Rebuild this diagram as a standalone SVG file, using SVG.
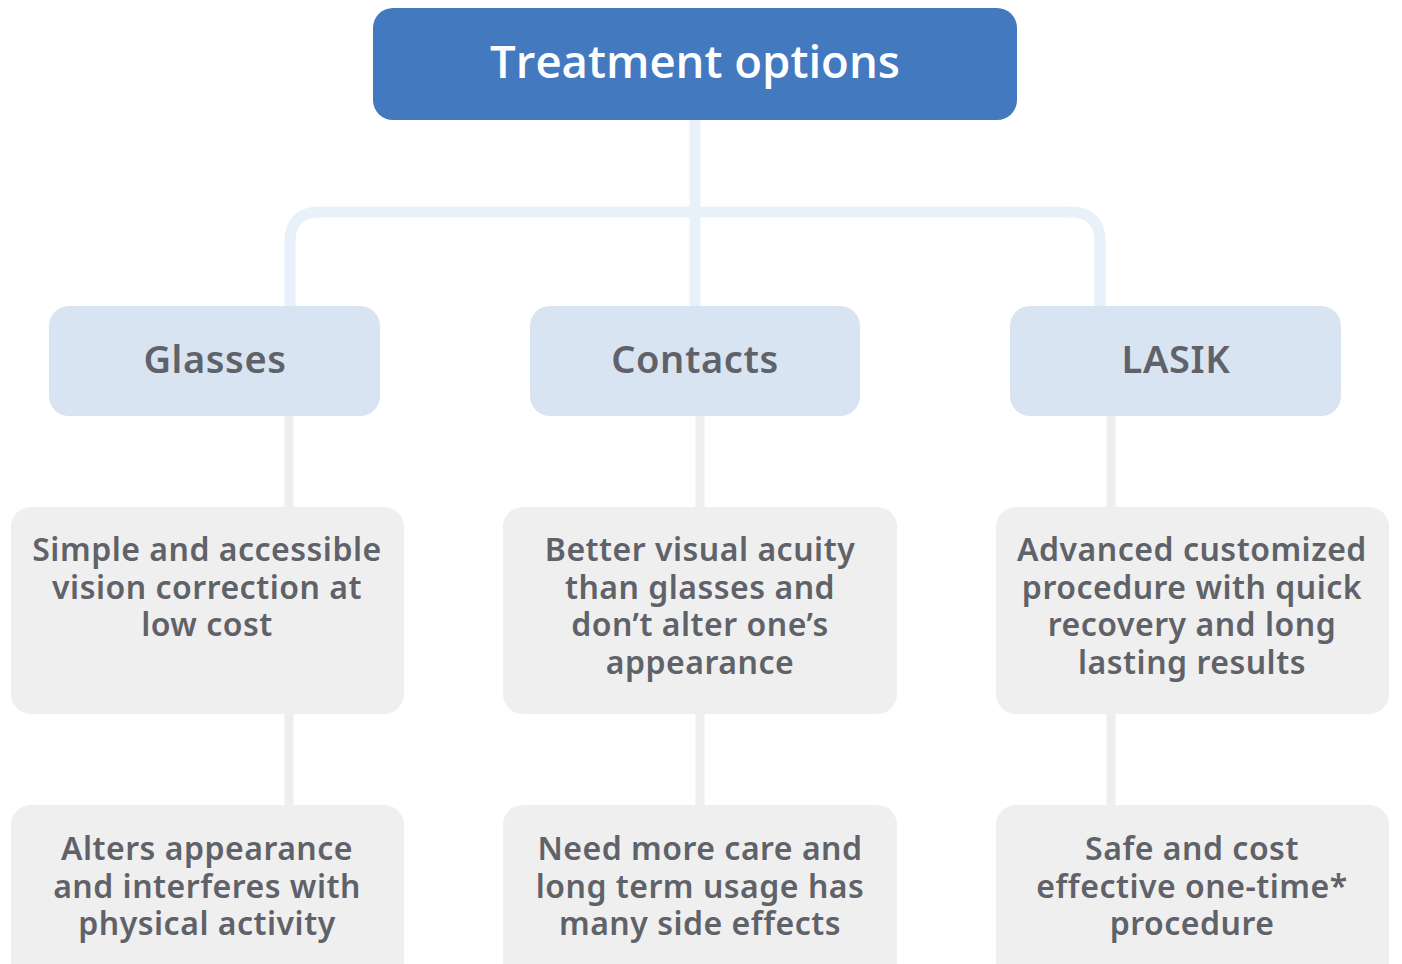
<svg xmlns="http://www.w3.org/2000/svg" width="1402" height="964" viewBox="0 0 1402 964">
<style>
.top{fill:#437ABF}
.l1{fill:#D9E4F2}
.l2{fill:#EFEFEF}
.t0{font-family:"Open Sans","Noto Sans",sans-serif;font-weight:600;font-size:45.5px;fill:#fff;text-anchor:middle}
.t1{font-family:"Noto Sans","Open Sans",sans-serif;font-weight:600;font-size:38px;letter-spacing:0.6px;fill:#5F6268;text-anchor:middle}
.t2{font-family:"Noto Sans","Open Sans",sans-serif;font-weight:600;font-size:32px;letter-spacing:0.5px;fill:#5F6268;text-anchor:middle}
.cb{fill:none;stroke:#E8F0F9;stroke-width:11}
.cg{fill:none;stroke:#EEEEEE;stroke-width:9}
</style>
<rect width="1402" height="964" fill="#fff"/>
<g id="connectors">
<path class="cb" d="M695 120 V306"/>
<path class="cb" d="M290 306 V242 Q290 212 320 212 H1070 Q1100 212 1100 242 V306"/>
<path class="cg" d="M289 416 V507 M289 714 V805"/>
<path class="cg" d="M700 416 V507 M700 714 V805"/>
<path class="cg" d="M1111 416 V507 M1111 714 V805"/>
</g>
<g id="treatment-options">
<rect class="top" x="373" y="8" width="644" height="112" rx="20"/>
<text class="t0" x="695" y="78">Treatment options</text>
</g>
<g id="glasses">
<rect class="l1" x="49" y="306" width="331" height="110" rx="20"/>
<text class="t1" x="215" y="373">Glasses</text>
</g>
<g id="contacts">
<rect class="l1" x="530" y="306" width="330" height="110" rx="20"/>
<text class="t1" x="695" y="373">Contacts</text>
</g>
<g id="lasik">
<rect class="l1" x="1010" y="306" width="331" height="110" rx="20"/>
<text class="t1" x="1176" y="373">LASIK</text>
</g>
<g id="glasses-pro">
<rect class="l2" x="11" y="507" width="393" height="207" rx="20"/>
<text class="t2" x="207" y="561"><tspan x="207">Simple and accessible</tspan><tspan x="207" dy="37.5">vision correction at</tspan><tspan x="207" dy="37.5">low cost</tspan></text>
</g>
<g id="contacts-pro">
<rect class="l2" x="503" y="507" width="394" height="207" rx="20"/>
<text class="t2" x="700" y="561"><tspan x="700">Better visual acuity</tspan><tspan x="700" dy="37.5">than glasses and</tspan><tspan x="700" dy="37.5">don’t alter one’s</tspan><tspan x="700" dy="37.5">appearance</tspan></text>
</g>
<g id="lasik-pro">
<rect class="l2" x="996" y="507" width="393" height="207" rx="20"/>
<text class="t2" x="1192" y="561"><tspan x="1192">Advanced customized</tspan><tspan x="1192" dy="37.5">procedure with quick</tspan><tspan x="1192" dy="37.5">recovery and long</tspan><tspan x="1192" dy="37.5">lasting results</tspan></text>
</g>
<g id="glasses-con">
<rect class="l2" x="11" y="805" width="393" height="180" rx="20"/>
<text class="t2" x="207" y="860"><tspan x="207">Alters appearance</tspan><tspan x="207" dy="37.5">and interferes with</tspan><tspan x="207" dy="37.5">physical activity</tspan></text>
</g>
<g id="contacts-con">
<rect class="l2" x="503" y="805" width="394" height="180" rx="20"/>
<text class="t2" x="700" y="860"><tspan x="700">Need more care and</tspan><tspan x="700" dy="37.5">long term usage has</tspan><tspan x="700" dy="37.5">many side effects</tspan></text>
</g>
<g id="lasik-con">
<rect class="l2" x="996" y="805" width="393" height="180" rx="20"/>
<text class="t2" x="1192" y="860"><tspan x="1192">Safe and cost</tspan><tspan x="1192" dy="37.5">effective one-time*</tspan><tspan x="1192" dy="37.5">procedure</tspan></text>
</g>
</svg>
